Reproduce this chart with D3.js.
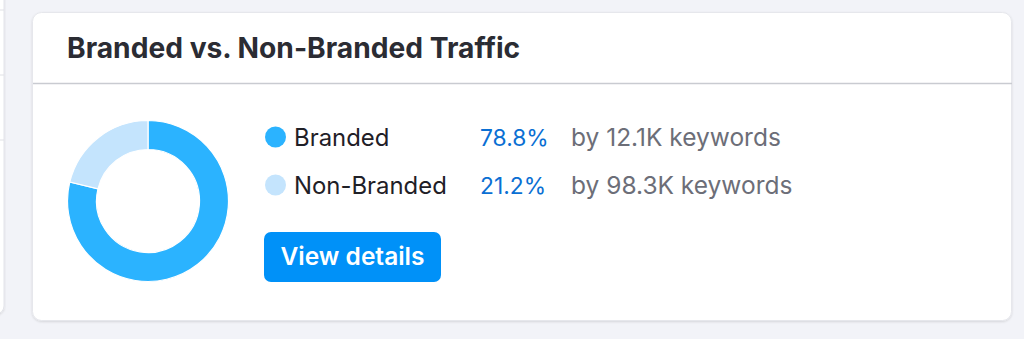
<!DOCTYPE html>
<html>
<head>
<meta charset="utf-8">
<script src="https://cdn.jsdelivr.net/npm/d3@7"></script>
<style>
  body { margin: 0; background: #f2f3f8; }
  svg { display: block; font-family: Inter, "Noto Sans", sans-serif; }
</style>
</head>
<body>
<div id="chart"></div>
<script>
// data
var title = "Branded vs. Non-Branded Traffic";
var categories = ["Branded", "Non-Branded"];
var shares = [78.8, 21.2];
var keywordCounts = ["12.1K", "98.3K"];
var colors = ["#2bb3ff", "#c4e4fd"];

var svgWidth = 1024, svgHeight = 339;

var svg = d3.select("#chart")
    .append("svg")
    .attr("width", svgWidth)
    .attr("height", svgHeight);

var defs = svg.append("defs");
var shadow = defs.append("filter").attr("id", "shadow")
    .attr("x", "-5%").attr("y", "-5%").attr("width", "110%").attr("height", "115%");
shadow.append("feDropShadow")
    .attr("dx", 0).attr("dy", 1).attr("stdDeviation", 1)
    .attr("flood-color", "#000").attr("flood-opacity", 0.12);

// neighbour panel sticking in at the left
svg.append("rect")
    .attr("x", -30).attr("y", -20).attr("width", 34).attr("height", 334)
    .attr("rx", 8)
    .attr("fill", "#fff").attr("stroke", "#e3e4ea")
    .attr("filter", "url(#shadow)");
[10, 75, 140].forEach(function(y) {
    svg.append("line").attr("x1", 0).attr("x2", 4).attr("y1", y).attr("y2", y)
        .attr("stroke", "#e0e1e6");
});

// card
svg.append("rect")
    .attr("x", 32.5).attr("y", 12.5).attr("width", 979).attr("height", 308)
    .attr("rx", 9)
    .attr("fill", "#fff").attr("stroke", "#e6e7ec")
    .attr("filter", "url(#shadow)");

svg.append("line")
    .attr("x1", 33).attr("x2", 1012).attr("y1", 83.5).attr("y2", 83.5)
    .attr("stroke", "#c9cbd1").attr("stroke-width", 1.5);

svg.append("text")
    .attr("x", 67).attr("y", 58)
    .attr("font-size", 28.2).attr("font-weight", 700)
    .attr("fill", "#2b2c33")
    .text(title);

// donut
var data = categories.map(function(c, i) { return { name: c, value: shares[i], color: colors[i] }; });
var pie = d3.pie().sort(null).value(function(d) { return d.value; });
var arc = d3.arc().innerRadius(51.5).outerRadius(80.5);

var donut = svg.append("g").attr("transform", "translate(148,201)");
donut.selectAll("path")
    .data(pie(data))
    .enter()
    .append("path")
    .attr("d", arc)
    .attr("fill", function(d) { return d.data.color; })
    .attr("stroke", "#fff")
    .attr("stroke-width", 1.2);

// legend rows
var rowY = d3.scaleBand().domain(categories).range([113, 209]);

var rows = svg.selectAll("g.row")
    .data(data)
    .enter()
    .append("g")
    .attr("class", "row")
    .attr("transform", function(d) { return "translate(0," + (rowY(d.name) + rowY.bandwidth() / 2) + ")"; });

rows.append("circle")
    .attr("cx", 275.5).attr("cy", 0).attr("r", 10.5)
    .attr("fill", function(d) { return d.color; });

rows.append("text")
    .attr("x", 294).attr("y", 8.5)
    .attr("font-size", 23.9).attr("fill", "#1f2027")
    .text(function(d) { return d.name; });

rows.append("text")
    .attr("x", 480).attr("y", 8.5)
    .attr("font-size", 22.8).attr("fill", "#0a6fd3")
    .text(function(d) { return d3.format(".1f")(d.value) + "%"; });

rows.append("text")
    .attr("x", 571).attr("y", 8.5)
    .attr("font-size", 24.5).attr("fill", "#6c6e78")
    .text(function(d, i) { return "by " + keywordCounts[i] + " keywords"; });

// button
svg.append("rect")
    .attr("x", 264).attr("y", 232).attr("width", 177).attr("height", 50)
    .attr("rx", 7)
    .attr("fill", "#0091f8");
svg.append("text")
    .attr("x", 352.5).attr("y", 265)
    .attr("text-anchor", "middle")
    .attr("font-size", 24.5).attr("font-weight", 600)
    .attr("fill", "#fff")
    .text("View details");
</script>
</body>
</html>
